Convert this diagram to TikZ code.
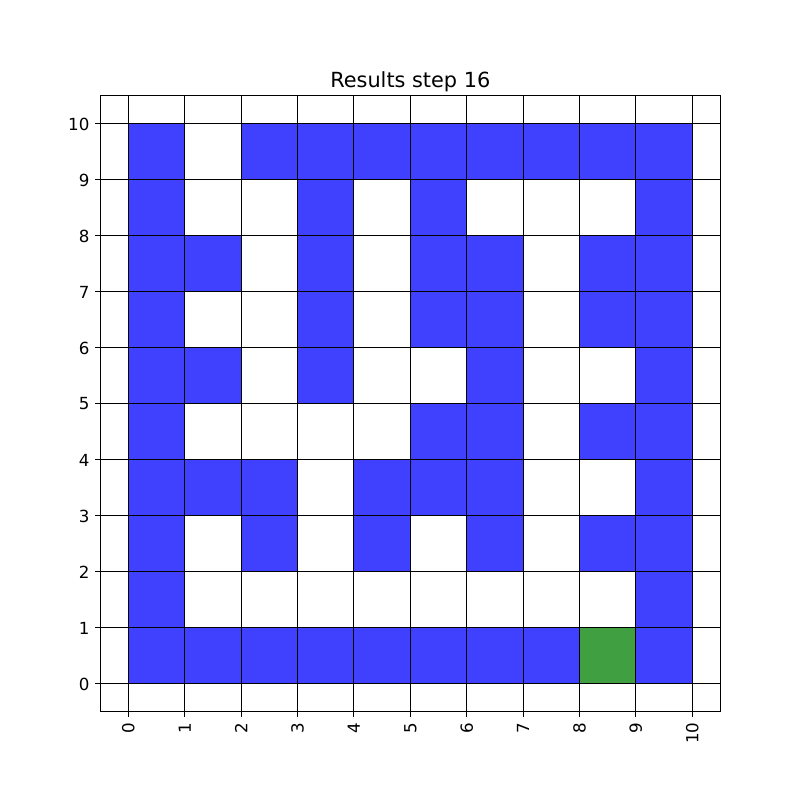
\documentclass[tikz,border=0pt]{standalone}
\usepackage{fontspec}
\setmainfont{DejaVu Sans}
\usepackage{tikz}
\definecolor{cellblue}{RGB}{64,64,255}
\definecolor{cellgreen}{RGB}{64,159,64}

\begin{document}
\begin{tikzpicture}[x=40.608pt, y=40.32pt,
    gridline/.style={black, line width=0.7pt},
    ticklabel/.style={font=\fontsize{12}{14}\selectfont, inner sep=0pt}]
    \useasboundingbox (-2.275, -2.0714) rectangle (11.910, 12.214);

    % Filled cells
    \foreach \r/\cs in {9/{0,2,3,4,5,6,7,8,9}, 8/{0,3,5,9}, 7/{0,1,3,5,6,8,9},
        6/{0,3,5,6,8,9}, 5/{0,1,3,6,9}, 4/{0,5,6,8,9}, 3/{0,1,2,4,5,6,9},
        2/{0,2,4,6,8,9}, 1/{0,9}, 0/{0,1,2,3,4,5,6,7,9}}
        \foreach \c in \cs
            \fill[cellblue] (\c, \r) rectangle ++(1, 1);
    \fill[cellgreen] (8, 0) rectangle ++(1, 1);

    % Grid
    \foreach \i in {0,...,10} {
        \draw[gridline] (\i, -0.5) -- (\i, 10.5);
        \draw[gridline] (-0.5, \i) -- (10.5, \i);
    }
    \draw[gridline] (-0.5, -0.5) rectangle (10.5, 10.5);

    % Ticks and labels
    \foreach \i in {0,...,10} {
        \draw[gridline] (\i, -0.5) -- ++(0, -3.5pt);
        \draw[gridline] (-0.5, \i) -- ++(-3.5pt, 0);
        \node[ticklabel, rotate=90, anchor=east] (xl\i) at ([yshift=-7.5pt]\i, -0.5) {\i};
        \node[ticklabel, anchor=east] (yl\i) at ([xshift=-7.5pt]-0.5, \i) {\i};
    }

    % Title
    \node[anchor=base, font=\fontsize{15}{18}\selectfont, inner sep=0pt] (title)
        at ([yshift=6pt]5, 10.5) {Results step 16};
\end{tikzpicture}
\end{document}
